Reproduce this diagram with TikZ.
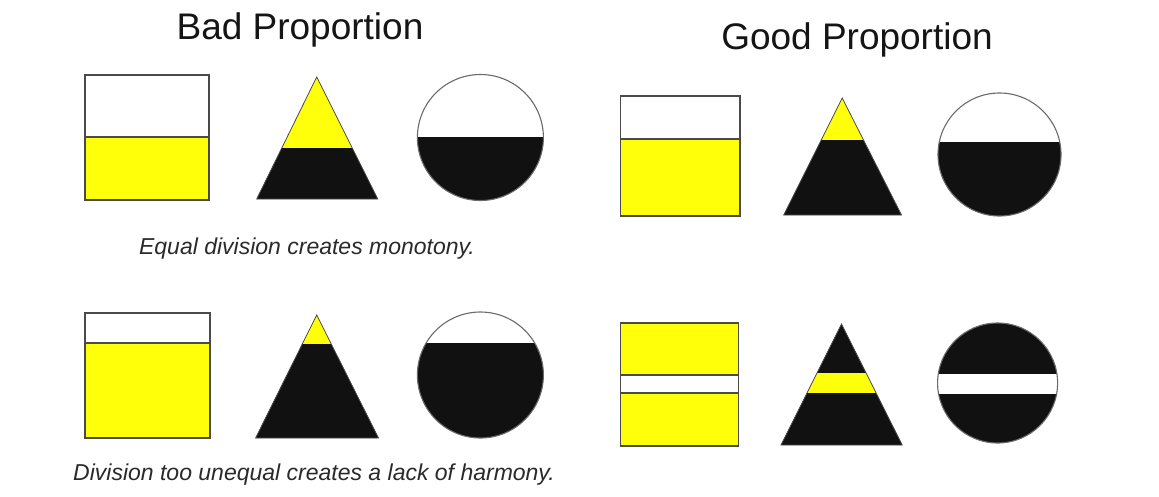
\documentclass[tikz,border=0pt]{standalone}
\usepackage{fontspec}
\setmainfont{Liberation Sans}
\definecolor{yel}{HTML}{FFFF0A}
\definecolor{blk}{HTML}{111111}
\definecolor{edge}{HTML}{4A4A4A}
\definecolor{cedge}{HTML}{6A6A6A}
\definecolor{titlec}{HTML}{151515}
\definecolor{capc}{HTML}{2A2A2A}
\tikzset{
  sqedge/.style={draw=edge, line width=1.4pt},
  tredge/.style={draw=edge, line width=0.8pt, line join=miter},
  ciredge/.style={draw=cedge, line width=1.1pt},
  yelfill/.style={fill=yel},
  blkfill/.style={fill=blk},
  title/.style={anchor=base, inner sep=0pt, text=titlec, font=\fontsize{37}{40}\selectfont},
  caption/.style={anchor=base, inner sep=0pt, text=capc, font=\fontsize{23}{26}\selectfont\itshape},
}
\begin{document}
\begin{tikzpicture}[x=1pt,y=-1pt]
\useasboundingbox (0,0) rectangle (1159,496);
\fill[white] (0,0) rectangle (1159,496);

% titles
\node[title] (badtitle) at (300,39) {Bad Proportion};
\node[title] (goodtitle) at (857,49) {Good Proportion};

% ---------- Bad row 1 ----------
% square
\fill[yelfill] (85,137) rectangle (209,200);
\draw[sqedge] (85,137) -- (209,137);
\draw[sqedge] (85,75) rectangle (209,200);
% triangle
\begin{scope}
  \clip (316.7,77) -- (377.8,199) -- (256.7,199) -- cycle;
  \fill[yelfill] (250,70) rectangle (385,148);
  \fill[blkfill] (250,148) rectangle (385,205);
\end{scope}
\draw[tredge] (316.7,77) -- (377.8,199) -- (256.7,199) -- cycle;
% circle
\begin{scope}
  \clip (480.4,137.5) circle (63pt);
  \fill[blkfill] (410,137) rectangle (550,205);
\end{scope}
\draw[ciredge] (480.4,137.5) circle (63pt);

\node[caption] (cap1) at (307,254) {Equal division creates monotony.};

% ---------- Bad row 2 ----------
\fill[yelfill] (85,343) rectangle (210,438);
\draw[sqedge] (85,343) -- (210,343);
\draw[sqedge] (85,313) rectangle (210,438);
\begin{scope}
  \clip (316.7,315) -- (378.5,438) -- (255.6,438) -- cycle;
  \fill[yelfill] (250,305) rectangle (385,344);
  \fill[blkfill] (250,344) rectangle (385,445);
\end{scope}
\draw[tredge] (316.7,315) -- (378.5,438) -- (255.6,438) -- cycle;
\begin{scope}
  \clip (480.4,375) circle (63pt);
  \fill[blkfill] (410,343) rectangle (550,445);
\end{scope}
\draw[ciredge] (480.4,375) circle (63pt);

\node[caption] (cap2) at (314,480) {Division too unequal creates a lack of harmony.};

% ---------- Good row 1 ----------
\fill[yelfill] (620.7,139) rectangle (740,216);
\draw[sqedge] (620.7,139) -- (740,139);
\draw[sqedge] (620.7,96) rectangle (740,216);
\begin{scope}
  \clip (842.2,98) -- (901.5,215) -- (783.7,215) -- cycle;
  \fill[yelfill] (775,90) rectangle (910,140);
  \fill[blkfill] (775,140) rectangle (910,222);
\end{scope}
\draw[tredge] (842.2,98) -- (901.5,215) -- (783.7,215) -- cycle;
\begin{scope}
  \clip (999.5,154.5) circle (61.5pt);
  \fill[blkfill] (930,142) rectangle (1070,222);
\end{scope}
\draw[ciredge] (999.5,154.5) circle (61.5pt);

% ---------- Good row 2 ----------
\fill[yelfill] (620.7,323) rectangle (738.5,446);
\fill[white] (620.7,375) rectangle (738.5,393);
\draw[sqedge] (620.7,375) -- (738.5,375);
\draw[sqedge] (620.7,393) -- (738.5,393);
\draw[sqedge] (620.7,323) rectangle (738.5,446);
\begin{scope}
  \clip (841.5,324) -- (902.2,445) -- (781,445) -- cycle;
  \fill[blkfill] (775,315) rectangle (910,452);
  \fill[yelfill] (775,373) rectangle (910,393);
\end{scope}
\draw[tredge] (841.5,324) -- (902.2,445) -- (781,445) -- cycle;
\begin{scope}
  \clip (997.6,383) circle (60pt);
  \fill[blkfill] (930,315) rectangle (1070,452);
  \fill[white] (930,374) rectangle (1070,394);
\end{scope}
\draw[ciredge] (997.6,383) circle (60pt);
\end{tikzpicture}
\end{document}
